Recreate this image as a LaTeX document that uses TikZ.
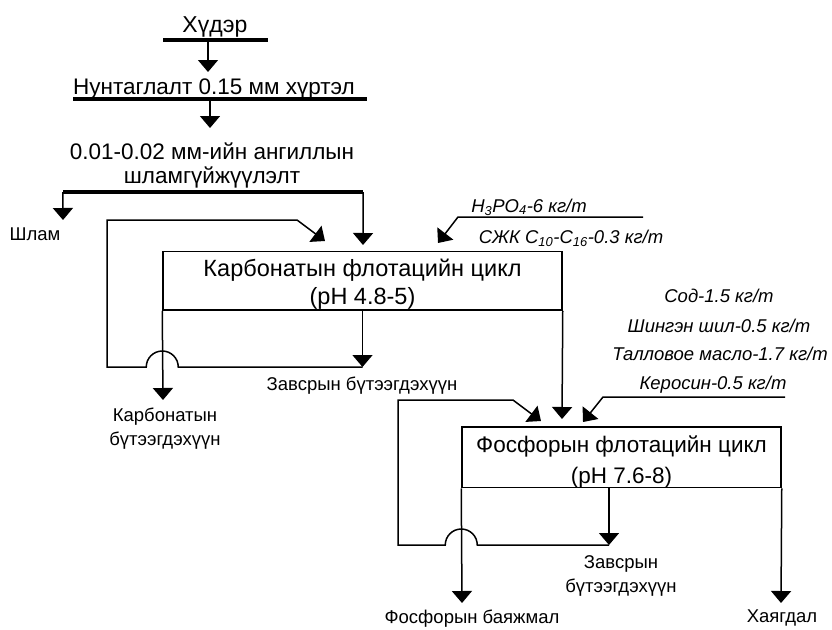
\documentclass[tikz,border=0pt]{standalone}
\usepackage{fontspec}
\setmainfont{Liberation Sans}
\usetikzlibrary{arrows.meta, calc}
\tikzstyle{stage} = [inner sep=0pt, anchor=base, font=\fontsize{22.5}{24}\selectfont, align=center]
\tikzstyle{cycle} = [rectangle, draw=black, line width=1.5pt, inner sep=0pt, align=center]
\tikzstyle{product} = [inner sep=0pt, anchor=base, font=\fontsize{18.5}{23.5}\selectfont, align=center]
\tikzstyle{reagent} = [inner sep=0pt, anchor=base, font=\fontsize{18.5}{20}\selectfont\itshape]
\tikzstyle{bar} = [fill=black, minimum height=4.5pt, inner sep=0pt]
\tikzstyle{arrow} = [line width=1.5pt, -{Triangle[width=20pt,length=12pt]}]

\begin{document}
\begin{tikzpicture}[x=1pt, y=-1pt]
\useasboundingbox (0,0) rectangle (832,629);

\node (ore) [stage, font=\fontsize{23}{24}\selectfont] at (215,32) {Хүдэр};
\node (oreBar) [bar, minimum width=105pt] at (215.5,40) {};
\node (grind) [stage] at (214,94) {Нунтаглалт 0.15 мм хүртэл};
\node (grindBar) [bar, minimum width=294pt] at (220,99) {};
\node (deslime) [stage] at (212,183) {0.01-0.02 мм-ийн ангиллын\\шламгүйжүүлэлт};
\node (deslimeBar) [bar, minimum width=300pt] at (213,192) {};
\node (slime) [product] at (35,240) {Шлам};

\node (carb) [cycle, minimum width=399pt, minimum height=58.5pt, font=\fontsize{23.5}{28}\selectfont] at (362.5,280.75) {\rule{0pt}{25.3pt}Карбонатын флотацийн цикл\\(pH 4.8-5)};
\node (h3po4) [reagent] at (529,212) {H\textsubscript{3}PO\textsubscript{4}-6 кг/т};
\node (szhk) [reagent] at (571,243) {СЖК C\textsubscript{10}-C\textsubscript{16}-0.3 кг/т};
\node (carbMidText) [product] at (362,390) {Завсрын бүтээгдэхүүн};
\node (carbConcText) [product] at (165,445) {Карбонатын\\бүтээгдэхүүн};

\node (phos) [cycle, minimum width=319pt, minimum height=59.5pt, font=\fontsize{22.5}{31}\selectfont] at (621.5,457.25) {\rule{0pt}{25.3pt}Фосфорын флотацийн цикл\\(pH 7.6-8)};
\node (soda) [reagent] at (719,302) {Сод-1.5 кг/т};
\node (glass) [reagent] at (719,332) {Шингэн шил-0.5 кг/т};
\node (tall) [reagent] at (720,360) {Талловое масло-1.7 кг/т};
\node (kero) [reagent] at (713,389) {Керосин-0.5 кг/т};
\node (phosMidText) [product, font=\fontsize{18.5}{24}\selectfont] at (621,592) {Завсрын\\бүтээгдэхүүн};
\node (phosConcText) [product] at (472,623) {Фосфорын баяжмал};
\node (tailsText) [product] at (782,622) {Хаягдал};

\coordinate (grindIn) at (208,72);
\coordinate (deslimeIn) at (210,128);
\coordinate (slimeIn) at (63,220);
\coordinate (carbIn) at (363,245);
\coordinate (carbMid) at (362.5,367);
\coordinate (carbLoop) at (107,220);
\coordinate (carbRec) at (325,241);
\coordinate (carbConc) at (163,400);
\coordinate (r1start) at (643,217);
\coordinate (r1tip) at (438,243);
\coordinate (phosIn) at (562,419);
\coordinate (phosMid) at (609,545);
\coordinate (phosLoop) at (398,400);
\coordinate (phosRec) at (541,421);
\coordinate (r2start) at (785,397);
\coordinate (r2tip) at (583,422);
\coordinate (phosConc) at (462,603);
\coordinate (tails) at (781,603);

\draw [arrow] (oreBar.south -| grindIn) -- (grindIn);
\draw [arrow] (grindBar.south -| deslimeIn) -- (deslimeIn);
\draw [arrow] (deslimeBar.west) -- (slimeIn);
\draw [arrow] (deslimeBar.east) -- (carbIn);
\draw [arrow] (r1start) -- (458,217) -- (r1tip);
\draw [arrow] (carb.south) -- (carbMid);
\draw [arrow] (carbMid) -- ($(carbMid -| carb.west)+(16,0)$) arc (0:-180:16) -- (carbMid -| carbLoop) -- (carbLoop) -- (297,220) -- (carbRec);
\draw [arrow] (carb.south west) -- (carbConc);
\draw [arrow] (carb.south east) -- (phosIn);

\draw [arrow] (r2start) -- (603,397) -- (r2tip);
\draw [arrow] (phos.south -| phosMid) -- (phosMid);
\draw [arrow] (phosMid) -- ($(phosMid -| phos.west)+(16,0)$) arc (0:-180:16) -- (phosMid -| phosLoop) -- (phosLoop) -- (513,400) -- (phosRec);
\draw [arrow] (phos.south west) -- (phosConc);
\draw [arrow] (phos.south east) -- (tails);

\end{tikzpicture}
\end{document}
